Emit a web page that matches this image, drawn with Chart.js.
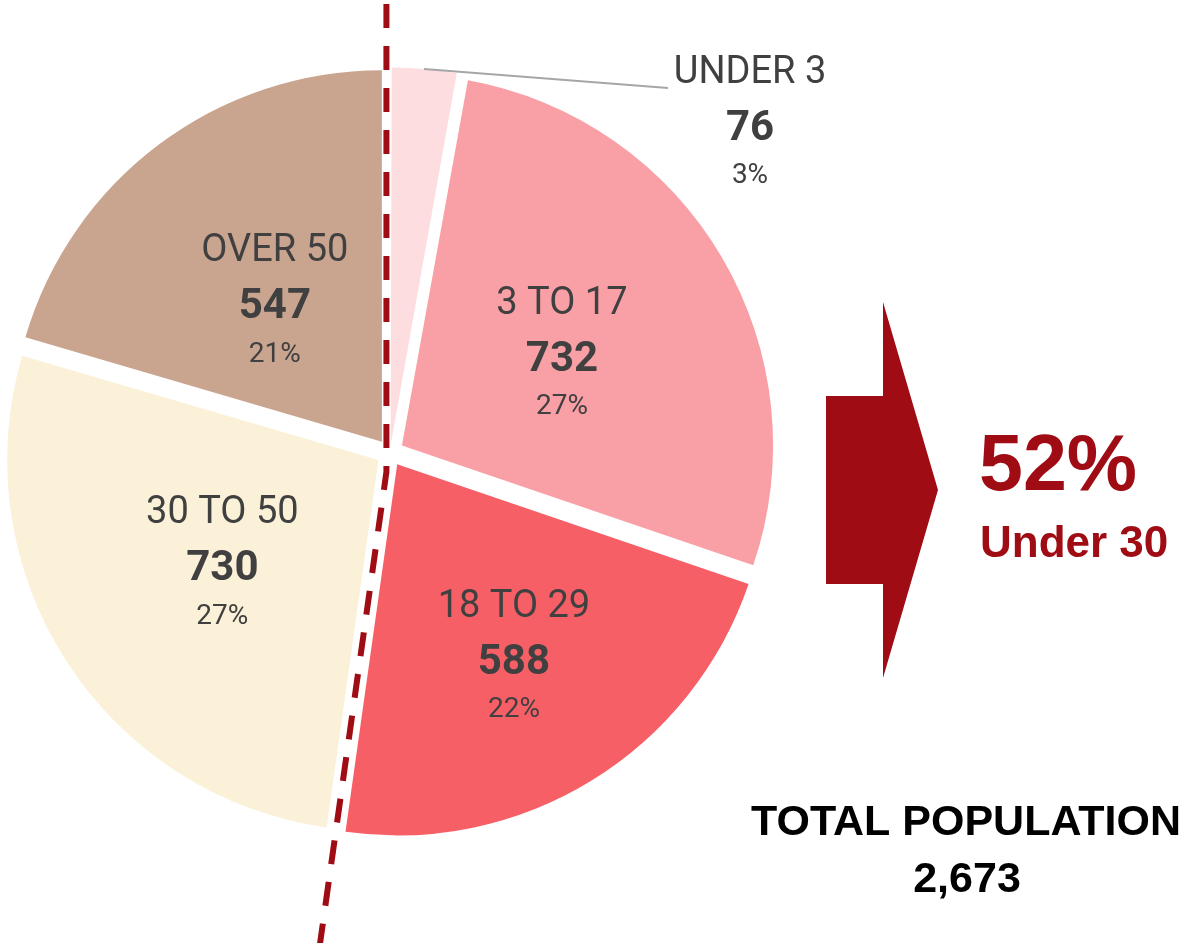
<!DOCTYPE html>
<html>
<head>
<meta charset="utf-8">
<script src="https://cdn.jsdelivr.net/npm/chart.js@4.4.1/dist/chart.umd.min.js"></script>
<style>
  html, body { margin: 0; padding: 0; background: #fff; }
  #wrap { width: 1186px; height: 943px; }
</style>
</head>
<body>
<div id="wrap"><canvas id="agePie" width="1186" height="943"></canvas></div>
<script>
/* age breakdown pie - population by age group */

const groups = ['UNDER 3', '3 TO 17', '18 TO 29', '30 TO 50', 'OVER 50'];
const counts = [76, 732, 588, 730, 547];
const pctLabels = ['3%', '27%', '22%', '27%', '21%'];
const sliceColors = ['#FDDDE0', '#F9A0A6', '#F75F67', '#FBF0D8', '#C9A590'];
const under30Groups = 3; // first three groups are under 30

const total = counts.reduce((a, b) => a + b, 0);
const under30Pct = Math.round(counts.slice(0, under30Groups).reduce((a, b) => a + b, 0) / total * 100);

const DARK_RED = '#A00C14';
const TEXT_GREY = '#404040';
const EXPLODE = 14; // px each slice is pulled out from the centre

// chart.js moves an arc by offset/4 * (2 - sin(circumference)); invert so every slice moves EXPLODE px
function explodeOffset(c) {
  const circ = counts[c.dataIndex] / total * Math.PI * 2;
  return 4 * EXPLODE / (2 - Math.sin(Math.min(Math.PI, circ)));
}

function shiftOf(arc) {
  const mid = (arc.startAngle + arc.endAngle) / 2;
  return { x: Math.cos(mid) * EXPLODE, y: Math.sin(mid) * EXPLODE, mid };
}

const annotations = {
  id: 'annotations',
  afterDatasetsDraw(chart) {
    const ctx = chart.ctx;
    const arcs = chart.getDatasetMeta(0).data;
    const cx = arcs[0].x, cy = arcs[0].y, R = arcs[0].outerRadius;

    // dashed split line, running through the gaps at both ends of the under-30 group
    const a0 = arcs[0].startAngle;
    const a1 = arcs[under30Groups - 1].endAngle;
    const sFirst = shiftOf(arcs[0]), sLast = shiftOf(arcs[arcs.length - 1]);
    const sA = shiftOf(arcs[under30Groups - 1]), sB = shiftOf(arcs[under30Groups]);
    const p = { x: cx + (sFirst.x + sLast.x) / 2, y: cy + (sFirst.y + sLast.y) / 2 };
    const q = { x: cx + (sA.x + sB.x) / 2, y: cy + (sA.y + sB.y) / 2 };
    const d0 = { x: Math.cos(a0), y: Math.sin(a0) };
    const d1 = { x: Math.cos(a1), y: Math.sin(a1) };
    // intersection of the two gap lines
    const den = d0.x * d1.y - d0.y * d1.x;
    const t = ((q.x - p.x) * d1.y - (q.y - p.y) * d1.x) / den;
    const corner = { x: p.x + d0.x * t, y: p.y + d0.y * t };
    const up = (corner.y) / -d0.y;

    ctx.save();
    ctx.strokeStyle = DARK_RED;
    ctx.lineWidth = 6;
    ctx.setLineDash([24, 18]);
    ctx.lineDashOffset = -4;
    ctx.beginPath();
    ctx.moveTo(corner.x + d0.x * up, corner.y + d0.y * up);
    ctx.lineTo(corner.x, corner.y);
    ctx.lineTo(corner.x + d1.x * 600, corner.y + d1.y * 600);
    ctx.stroke();
    ctx.restore();

    // slice labels
    const labelDist = [0, 0.5, 0.6, 0.5, 0.48];
    ctx.save();
    ctx.textAlign = 'center';
    ctx.textBaseline = 'middle';
    ctx.fillStyle = TEXT_GREY;
    arcs.forEach((arc, i) => {
      let x, y;
      if (i === 0) {
        x = 750; y = 129;
      } else {
        const s = shiftOf(arc);
        x = cx + s.x + Math.cos(s.mid) * R * labelDist[i];
        y = cy + s.y + Math.sin(s.mid) * R * labelDist[i] + 9;
      }
      ctx.font = '38px Roboto';
      ctx.fillText(groups[i], x, y - 56);
      ctx.font = 'bold 42px Roboto';
      ctx.fillText(String(counts[i]), x, y);
      ctx.font = '28px Roboto';
      ctx.fillText(pctLabels[i], x, y + 47);
    });
    ctx.restore();

    // leader line for the small slice
    ctx.save();
    ctx.strokeStyle = '#A6A6A6';
    ctx.lineWidth = 2;
    ctx.beginPath();
    ctx.moveTo(424, 69);
    ctx.lineTo(668, 88);
    ctx.stroke();
    ctx.restore();

    // block arrow
    ctx.save();
    ctx.fillStyle = DARK_RED;
    ctx.beginPath();
    ctx.moveTo(826, 396);
    ctx.lineTo(883, 396);
    ctx.lineTo(883, 302);
    ctx.lineTo(938, 490);
    ctx.lineTo(883, 678);
    ctx.lineTo(883, 584);
    ctx.lineTo(826, 584);
    ctx.closePath();
    ctx.fill();

    ctx.textAlign = 'left';
    ctx.textBaseline = 'alphabetic';
    ctx.font = 'bold 79px "Liberation Sans", Arial, sans-serif';
    ctx.fillText(under30Pct + '%', 979, 490);
    ctx.font = 'bold 44px "Liberation Sans", Arial, sans-serif';
    ctx.fillText('Under 30', 980, 557);

    ctx.fillStyle = '#000';
    ctx.textAlign = 'center';
    ctx.font = 'bold 43px "Liberation Sans", Arial, sans-serif';
    ctx.fillText('TOTAL POPULATION', 966, 835);
    ctx.fillText(total.toLocaleString('en-US'), 967, 892);
    ctx.restore();
  }
};

new Chart(document.getElementById('agePie'), {
  type: 'pie',
  data: {
    labels: groups,
    datasets: [{
      data: counts,
      backgroundColor: sliceColors,
      borderWidth: 0,
      hoverOffset: 0,
      offset: explodeOffset
    }]
  },
  options: {
    responsive: false,
    animation: false,
    radius: 371,
    layout: { padding: { left: 0, top: 0, right: 1186 - 780, bottom: 943 - 905 } },
    plugins: {
      legend: { display: false },
      tooltip: { enabled: false }
    }
  },
  plugins: [annotations]
});
</script>
</body>
</html>
